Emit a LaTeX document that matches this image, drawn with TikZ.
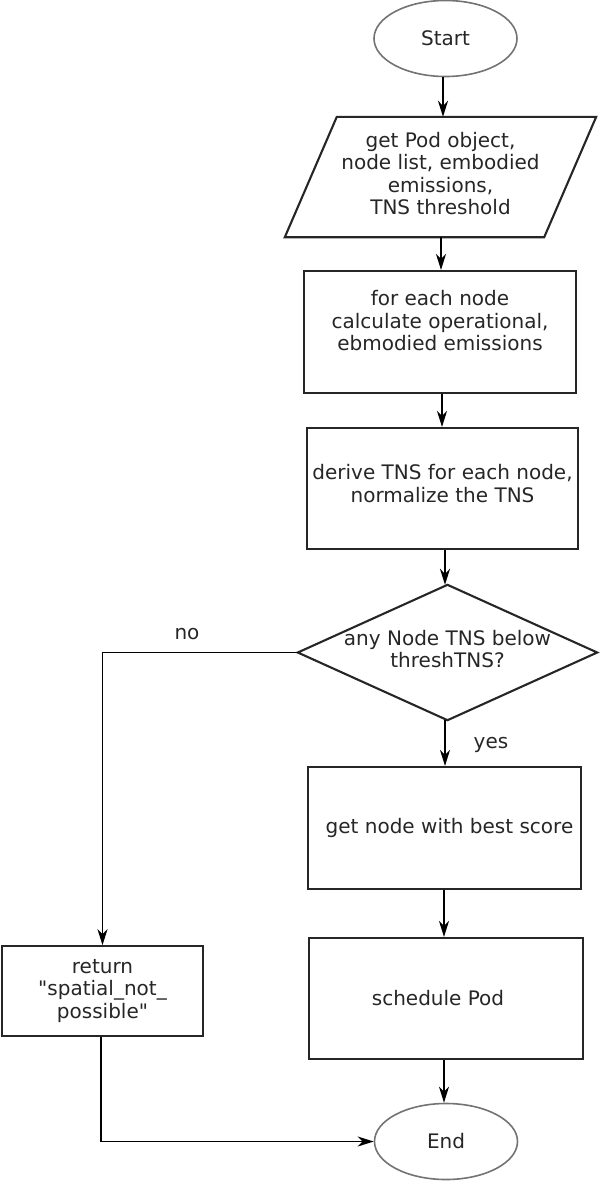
\documentclass[tikz,border=0pt]{standalone}
\usepackage{fontspec}
\setmainfont{DejaVu Sans}
\usetikzlibrary{arrows.meta,shapes.geometric}

\tikzset{
  terminal/.style={ellipse, draw=black!55, line width=1.6pt, minimum width=143pt, minimum height=76pt, inner sep=0pt},
  process/.style={rectangle, draw=black!85, line width=2.1pt, align=center, inner sep=0pt},
  frame/.style={draw=black!85, line width=2.1pt, line join=miter},
  flow/.style={draw=black, line width=1.9pt, -{Stealth[length=16pt,width=10pt,inset=5pt]}},
  tag/.style={font=\fontsize{20}{22}\selectfont}
}

\begin{document}
\begin{tikzpicture}[x=1pt,y=-1pt, font=\fontsize{20}{22.5}\selectfont, text=black!85]
\useasboundingbox (0,0) rectangle (600,1181);

% terminals
\node[terminal] (start) at (445.5,38.5) {Start};
\node[terminal] (end) at (446,1141.5) {End};

% input step (parallelogram drawn around a plain node)
\node[rectangle, minimum width=259pt, minimum height=120pt, align=center, inner sep=0pt]
  (input) at (440.5,177) {\mbox{}\\[-14pt]get Pod object,\\node list, embodied\\emissions,\\ TNS threshold};
\draw[frame] ([xshift=-26pt]input.south west) -- ([xshift=26pt]input.north west)
  -- ([xshift=26pt]input.north east) -- ([xshift=-26pt]input.south east) -- cycle;

% processing steps
\node[process, minimum width=272pt, minimum height=122pt] (calc) at (440,332)
  {for each node\\calculate operational,\\ ebmodied emissions\\ \mbox{}};
\node[process, minimum width=271pt, minimum height=121pt] (tns) at (442.5,488.5)
  {derive TNS for each node,\\normalize the TNS\\[-12pt]\mbox{}};

% decision (diamond drawn through the anchors of a plain node)
\node[rectangle, minimum width=299pt, minimum height=135pt, align=center, inner sep=0pt]
  (check) at (447.5,652.5) {\mbox{}\\[-14pt]any Node TNS below\\threshTNS?};
\draw[frame] (check.west) -- (check.north) -- (check.east) -- (check.south) -- cycle;

\node[process, minimum width=273pt, minimum height=122pt] (best) at (444.5,828)
  {\hspace*{10pt}get node with best score};
\node[process, minimum width=274pt, minimum height=121pt] (sched) at (446,998.5)
  {schedule Pod\hspace*{16pt}};
\node[process, line width=1.6pt, minimum width=201pt, minimum height=90pt] (ret) at (102.5,991)
  {return\\\textquotedbl spatial\_not\_\\possible\textquotedbl};

% corner of the "no" branch
\coordinate (nocorner) at (check.west -| ret.north);

% connectors
\draw[flow] (start.south -| 443,0) -- (443,0 |- input.north);
\draw[flow] (441,0 |- input.south) -- (441,0 |- calc.north);
\draw[flow] (442,0 |- calc.south) -- (442,0 |- tns.north);
\draw[flow] (445,0 |- tns.south) -- (445,0 |- check.north);
\draw[flow] (check.south -| 445,0) -- (445,0 |- best.north);
\draw[flow] (444,0 |- best.south) -- (444,0 |- sched.north);
\draw[flow] (444,0 |- sched.south) -- (444,0 |- end.north);
\draw[flow] (check.west) -- (nocorner) -- (ret.north);
\draw[flow] (ret.south -| 101,0) |- (end.west);

% branch labels
\node[tag] (nolabel) at (187,634) {no};
\node[tag] (yeslabel) at (491,745) {yes};
\end{tikzpicture}
\end{document}
